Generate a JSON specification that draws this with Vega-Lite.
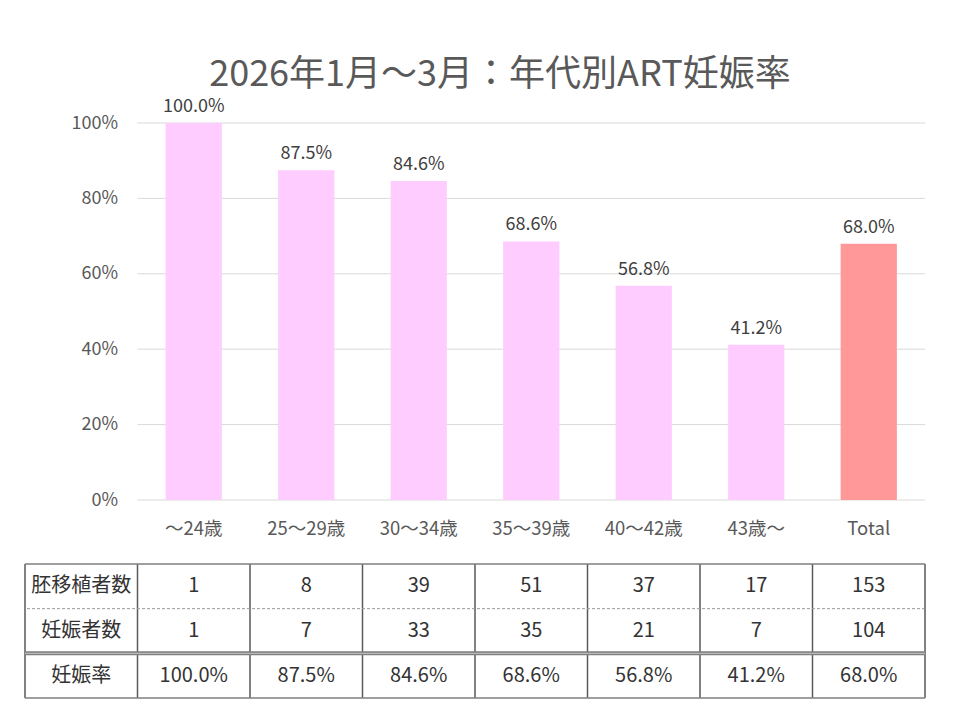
{
  "$schema": "https://vega.github.io/schema/vega-lite/v6.json",
  "background": "white",
  "padding": {"left": 23, "top": 57, "right": 10, "bottom": 0},
  "config": {
    "view": {"stroke": null},
    "font": "Noto Sans CJK JP",
    "text": {"font": "Noto Sans CJK JP"}
  },
  "title": {
    "text": "2026年1月～3月：年代別ART妊娠率",
    "fontSize": 36,
    "fontWeight": "normal",
    "color": "#595959",
    "anchor": "middle",
    "dx": 25,
    "offset": 4,
    "font": "Noto Sans CJK JP"
  },
  "datasets": {
    "ages": [
      {"age": "～24歳", "group": "age", "rate": 1.0, "transfers": 1, "pregnancies": 1},
      {"age": "25～29歳", "group": "age", "rate": 0.875, "transfers": 8, "pregnancies": 7},
      {"age": "30～34歳", "group": "age", "rate": 0.846, "transfers": 39, "pregnancies": 33},
      {"age": "35～39歳", "group": "age", "rate": 0.686, "transfers": 51, "pregnancies": 35},
      {"age": "40～42歳", "group": "age", "rate": 0.568, "transfers": 37, "pregnancies": 21},
      {"age": "43歳～", "group": "age", "rate": 0.412, "transfers": 17, "pregnancies": 7},
      {"age": "Total", "group": "total", "rate": 0.68, "transfers": 153, "pregnancies": 104}
    ],
    "ticks": [{"v": 0}, {"v": 0.2}, {"v": 0.4}, {"v": 0.6}, {"v": 0.8}, {"v": 1.0}],
    "rowlabels": [
      {"row": "transfers", "label": "胚移植者数"},
      {"row": "pregnancies", "label": "妊娠者数"},
      {"row": "rate", "label": "妊娠率"}
    ]
  },
  "spacing": 25,
  "vconcat": [
    {
      "width": 900,
      "height": 377,
      "encoding": {
        "x": {
          "field": "age",
          "type": "nominal",
          "sort": null,
          "scale": {
            "domain": ["", "～24歳", "25～29歳", "30～34歳", "35～39歳", "40～42歳", "43歳～", "Total"],
            "paddingInner": 0,
            "paddingOuter": 0
          },
          "axis": {
            "title": null,
            "domain": false,
            "ticks": false,
            "labelAngle": 0,
            "labelPadding": 19,
            "labelFontSize": 18.5,
            "labelColor": "#595959",
            "labelFont": "Noto Sans CJK JP"
          }
        }
      },
      "layer": [
        {
          "data": {"name": "ticks"},
          "mark": {"type": "rule", "color": "#D9D9D9", "strokeWidth": 1},
          "encoding": {
            "x": {"datum": "～24歳", "bandPosition": 0},
            "x2": {"datum": "Total", "bandPosition": 1},
            "y": {"field": "v", "type": "quantitative", "scale": {"domain": [0, 1]}}
          }
        },
        {
          "data": {"name": "ages"},
          "mark": {"type": "bar", "width": {"band": 0.5}},
          "encoding": {
            "y": {
              "field": "rate",
              "type": "quantitative",
              "scale": {"domain": [0, 1]},
              "axis": {
                "title": null,
                "values": [0, 0.2, 0.4, 0.6, 0.8, 1],
                "format": ".0%",
                "offset": -112.5,
                "labelPadding": 20,
                "domain": false,
                "ticks": false,
                "grid": false,
                "labelFontSize": 18,
                "labelColor": "#595959",
                "labelFont": "Noto Sans CJK JP"
              }
            },
            "color": {
              "field": "group",
              "type": "nominal",
              "scale": {"domain": ["age", "total"], "range": ["#FFCCFF", "#FF9999"]},
              "legend": null
            }
          }
        },
        {
          "data": {"name": "ages"},
          "mark": {"type": "text", "baseline": "bottom", "dy": -7, "fontSize": 18, "color": "#404040"},
          "encoding": {
            "y": {"field": "rate", "type": "quantitative"},
            "text": {"field": "rate", "type": "quantitative", "format": ".1%"}
          }
        }
      ]
    },
    {
      "width": 900,
      "height": 134,
      "resolve": {"scale": {"x": "shared", "y": "shared"}},
      "layer": [
        {
          "data": {"name": "ages"},
          "mark": {"type": "rule", "color": "#595959", "strokeWidth": 1.5},
          "encoding": {
            "x": {
              "field": "age",
              "type": "nominal",
              "bandPosition": 0,
              "scale": {
                "domain": ["", "～24歳", "25～29歳", "30～34歳", "35～39歳", "40～42歳", "43歳～", "Total"],
                "paddingInner": 0,
                "paddingOuter": 0
              },
              "axis": null
            }
          }
        },
        {
          "data": {"values": [{}]},
          "mark": {"type": "rule", "color": "#595959", "strokeWidth": 1.5},
          "encoding": {
            "x": {"datum": "", "bandPosition": 0}
          }
        },
        {
          "data": {"values": [{}]},
          "mark": {"type": "rule", "color": "#595959", "strokeWidth": 1.5},
          "encoding": {
            "x": {"datum": "Total", "bandPosition": 1}
          }
        },
        {
          "data": {"values": [{}]},
          "mark": {"type": "rule", "color": "#7F7F7F", "strokeWidth": 1.5},
          "encoding": {
            "y": {"datum": "transfers", "bandPosition": 0, "type": "nominal",
                  "scale": {"domain": ["transfers", "pregnancies", "rate"], "paddingInner": 0, "paddingOuter": 0}, "axis": null}
          }
        },
        {
          "data": {"values": [{}]},
          "mark": {"type": "rule", "color": "#999999", "strokeWidth": 1, "strokeDash": [3, 2]},
          "encoding": {
            "y": {"datum": "pregnancies", "bandPosition": 0, "type": "nominal"}
          }
        },
        {
          "data": {"values": [{}]},
          "mark": {"type": "rule", "color": "#7F7F7F", "strokeWidth": 4},
          "encoding": {
            "y": {"datum": "rate", "bandPosition": 0, "type": "nominal"}
          }
        },
        {
          "data": {"values": [{}]},
          "mark": {"type": "rule", "color": "#C8C8C8", "strokeWidth": 1},
          "encoding": {
            "y": {"datum": "rate", "bandPosition": 0, "type": "nominal"}
          }
        },
        {
          "data": {"values": [{}]},
          "mark": {"type": "rule", "color": "#7F7F7F", "strokeWidth": 1.5},
          "encoding": {
            "y": {"datum": "rate", "bandPosition": 1, "type": "nominal"}
          }
        },
        {
          "data": {"name": "rowlabels"},
          "mark": {"type": "text", "fontSize": 20, "color": "#333333"},
          "encoding": {
            "x": {"datum": ""},
            "y": {"field": "row", "type": "nominal"},
            "text": {"field": "label"}
          }
        },
        {
          "data": {"name": "ages"},
          "transform": [{"fold": ["transfers", "pregnancies"], "as": ["row", "value"]}],
          "mark": {"type": "text", "fontSize": 20, "color": "#333333"},
          "encoding": {
            "x": {"field": "age", "type": "nominal"},
            "y": {"field": "row", "type": "nominal"},
            "text": {"field": "value", "type": "nominal"}
          }
        },
        {
          "data": {"name": "ages"},
          "mark": {"type": "text", "fontSize": 20, "color": "#333333"},
          "encoding": {
            "x": {"field": "age", "type": "nominal"},
            "y": {"datum": "rate", "type": "nominal"},
            "text": {"field": "rate", "type": "quantitative", "format": ".1%"}
          }
        }
      ]
    }
  ]
}
